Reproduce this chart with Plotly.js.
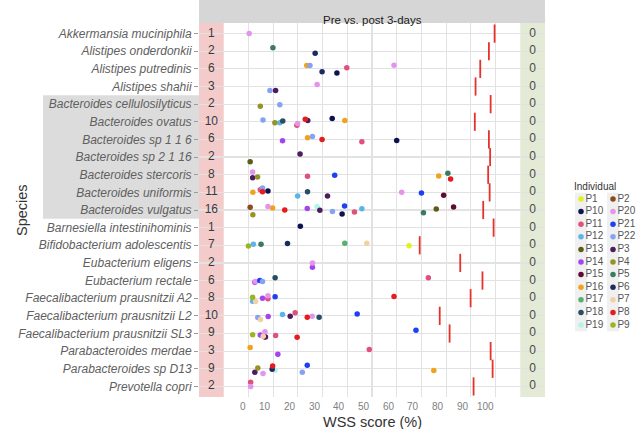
<!DOCTYPE html>
<html>
<head>
<meta charset="utf-8">
<script src="https://cdn.plot.ly/plotly-3.0.1.min.js"></script>
<style>html,body{margin:0;padding:0;background:#fff;}#chart{width:641px;height:429px;}</style>
</head>
<body>
<div id="chart"></div>
<script>
// ---------------- DATA ----------------
const species = [
  "Akkermansia muciniphila","Alistipes onderdonkii","Alistipes putredinis","Alistipes shahii",
  "Bacteroides cellulosilyticus","Bacteroides ovatus","Bacteroides sp 1 1 6","Bacteroides sp 2 1 16",
  "Bacteroides stercoris","Bacteroides uniformis","Bacteroides vulgatus","Barnesiella intestinihominis",
  "Bifidobacterium adolescentis","Eubacterium eligens","Eubacterium rectale","Faecalibacterium prausnitzii A2",
  "Faecalibacterium prausnitzii L2","Faecalibacterium prausnitzii SL3","Parabacteroides merdae",
  "Parabacteroides sp D13","Prevotella copri"
];
const preCount  = [1,2,6,3,2,10,6,2,8,11,16,1,7,2,6,8,10,9,3,9,2];
const postCount = [0,0,0,0,0,0,0,0,0,0,0,0,0,0,0,0,0,0,0,0,0];
const threshold = [99.6,97.3,93.8,91.9,98,91.6,97.3,97.8,97,97.6,95,99.2,69.3,85.7,94.7,89.9,77.4,81.4,98,98.8,91.1];
const highlighted = ["Bacteroides cellulosilyticus","Bacteroides vulgatus"];

const individuals = ["P1","P10","P11","P12","P13","P14","P15","P16","P17","P18","P19",
                     "P2","P20","P21","P22","P3","P4","P5","P6","P7","P8","P9"];
const indColors = {
  P1:"#e3f21c",P10:"#0b1452",P11:"#e0507a",P12:"#5ab4ea",P13:"#5c5c16",P14:"#a244f2",
  P15:"#5c0d33",P16:"#f0a21e",P17:"#55b071",P18:"#274e62",P19:"#b2f5ea",
  P2:"#8a4a22",P20:"#e493ee",P21:"#1f3ff2",P22:"#86a2f2",P3:"#4c1c5e",P4:"#949424",
  P5:"#3b7a61",P6:"#1b2b5e",P7:"#f2d2a4",P8:"#e41c1c",P9:"#9cb424"
};

// Each dot: species row, individual, WSS score (%), vertical jitter
const dotRow = [0, 1,1, 2,2,2,2,2,2, 3,3,3, 4,4,
  5,5,5,5,5,5,5,5,5,5, 6,6,6,6,6,6, 7,7, 8,8,8,8,8,8,8,8,
  9,9,9,9,9,9,9,9,9,9,9,
  10,10,10,10,10,10,10,10,10,10,10,10,10,10,10,10,
  11, 12,12,12,12,12,12,12, 13,13, 14,14,14,14,14,14, 15,15,15,15,15,15,15,15,
  16,16,16,16,16,16,16,16,16,16, 17,17,17,17,17,17,17,17,17, 18,18,18,
  19,19,19,19,19,19,19,19,19, 20,20];
const dotInd = ["P20", "P5","P6", "P16","P22","P6","P10","P11","P20", "P22","P3","P20", "P4","P22",
  "P22","P4","P12","P18","P11","P20","P8","P3","P10","P16",
  "P14","P16","P22","P8","P11","P10",
  "P13","P3",
  "P20","P3","P4","P11","P21","P16","P5","P8",
  "P16","P11","P22","P8","P10","P12","P18","P3","P20","P21","P15",
  "P2","P4","P20","P16","P8","P14","P19","P3","P22","P10","P21","P11","P12","P5","P13","P15",
  "P10",
  "P9","P12","P5","P6","P17","P7","P1",
  "P20","P14",
  "P20","P14","P21","P22","P18","P11",
  "P9","P12","P7","P14","P20","P11","P21","P8",
  "P22","P7","P14","P12","P3","P11","P8","P20","P18","P21",
  "P9","P14","P20","P7","P15","P3","P11","P8","P21",
  "P16","P14","P11",
  "P3","P4","P20","P6","P8","P19","P22","P21","P16",
  "P11","P20"];
const dotWss = [0.3, 9.9,27.0, 23.6,24.9,29.8,35.8,39.8,58.9, 8.7,11.0,27.8, 4.8,12.7,
  5.9,10.7,12.7,13.9,19.6,19.9,23.0,24.0,33.9,39.0,
  13.8,23.9,25.9,29.8,45.9,60.0,
  0.7,20.9,
  1.7,1.7,3.7,23.9,34.9,77.0,80.7,81.8,
  1.8,4.8,5.7,5.7,7.9,19.9,23.9,32.0,62.0,70.0,79.0,
  0.7,1.8,7.9,9.8,14.7,23.8,27.8,28.9,34.0,37.9,38.9,42.9,45.9,70.8,76.0,83.0,
  21.0,
  0.0,2.0,5.1,15.8,39.0,47.9,65.0,
  25.9,25.9,
  2.8,2.6,4.6,5.7,10.8,72.8,
  1.7,1.7,2.9,5.7,7.9,7.9,10.8,58.9,
  3.8,4.9,8.0,13.8,16.9,18.9,23.8,25.8,28.6,44.0,
  1.7,4.8,6.7,6.0,6.5,6.9,11.0,19.7,67.8,
  0.7,11.9,48.9,
  2.6,3.8,5.9,9.6,9.8,10.8,21.8,23.8,75.0,
  0.9,0.9];
const dotJitter = [0, -0.2,0.12, -0.19,-0.19,0.17,0.24,-0.06,-0.2, 0.23,0.23,-0.11, 0.12,0.03,
  -0.1,0.05,0.05,-0.04,0.2,0.1,-0.14,-0.08,-0.18,-0.08,
  0.08,-0.1,-0.17,0,0.13,0.06,
  0.26,-0.17,
  -0.16,0.17,0.13,0.09,0.03,0.07,-0.08,0.24,
  0,-0.15,-0.25,-0.04,-0.08,0.21,-0.04,0.21,0,0.04,0.17,
  -0.15,0.27,-0.2,-0.11,0,-0.09,-0.2,0.02,0.08,0.23,-0.22,0.12,-0.07,0.15,-0.05,-0.17,
  -0.08,
  0.04,-0.06,-0.06,-0.1,-0.11,-0.11,0.02,
  0,0.25,
  0.05,0.1,0,0.06,-0.16,-0.16,
  -0.06,0.17,0.19,0,-0.14,0.03,-0.08,-0.1,
  0.1,0.2,0.04,-0.07,0.02,-0.18,0.08,0.02,0.08,-0.11,
  0.07,0.09,-0.1,0.16,0.18,0.2,0.12,0.22,-0.18,
  -0.2,0.17,-0.09,
  0.2,-0.05,0.27,0.02,-0.16,0.08,0.2,-0.2,0.1,
  -0.23,0];

const xTicks = [0,10,20,30,40,50,60,70,80,90,100];
const xTickLabels = ["0","10","20","30","40","50","60","70","80","90","100"];

// ---------------- BUILD ----------------
const FONT = "Liberation Sans, Arial, Helvetica, sans-serif";
const rows = species.map((s,i)=>i);
const traces = [];

// dots, one trace per individual
individuals.forEach(ind=>{
  const xs=[], ys=[];
  dotInd.forEach((d,k)=>{ if(d===ind){ xs.push(dotWss[k]); ys.push(dotRow[k]+dotJitter[k]); } });
  traces.push({type:"scatter",mode:"markers",x:xs,y:ys,name:ind,showlegend:false,
    marker:{size:5.5,color:indColors[ind]},hoverinfo:"x+name",xaxis:"x",yaxis:"y"});
});
// threshold ticks
traces.push({type:"scatter",mode:"markers",x:threshold,y:rows,showlegend:false,
  marker:{symbol:"line-ns-open",size:13,color:"#e8312b",line:{color:"#e8312b",width:1.8}},xaxis:"x",yaxis:"y"});
// counts
traces.push({type:"scatter",mode:"text",x:rows.map(()=>-15),y:rows,text:preCount.map(String),
  textfont:{family:FONT,size:12,color:"#3a3a3a"},showlegend:false,hoverinfo:"skip",xaxis:"x",yaxis:"y"});
traces.push({type:"scatter",mode:"text",x:rows.map(()=>115),y:rows,text:postCount.map(String),
  textfont:{family:FONT,size:12,color:"#4a4a4a"},showlegend:false,hoverinfo:"skip",xaxis:"x",yaxis:"y"});

// custom legend on its own axes: two columns
const perCol = Math.ceil(individuals.length/2);
const legTop = 176, legStep = 12.6, colX = [11, 43];
individuals.forEach((ind,k)=>{
  const c = Math.floor(k/perCol), r = k%perCol;
  traces.push({type:"scatter",mode:"markers+text",x:[colX[c]],y:[legTop+r*legStep],
    text:[ind],textposition:"middle right",textfont:{family:FONT,size:10,color:"#555"},
    marker:{size:5.5,color:indColors[ind]},showlegend:false,hoverinfo:"skip",
    xaxis:"x2",yaxis:"y2",cliponaxis:false});
});

const W = 641, H = 429, ML = 199, MR = 0, MT = 23, MB = 32;
const plotW = W-ML-MR, plotH = H-MT-MB;
const mainW = 346;
const dom1 = mainW/plotW;

const shapes = [
  // highlight behind Bacteroides labels
  {type:"rect",xref:"paper",yref:"y",x0:(43-ML)/plotW,x1:0,
   y0:species.indexOf(highlighted[0])-0.5,y1:species.indexOf(highlighted[1])+0.5,
   fillcolor:"#dcdcdc",line:{width:0},layer:"below"},
  // pre strip (pink) and post strip (green)
  {type:"rect",xref:"x",yref:"paper",x0:-20,x1:-10,y0:0,y1:1,fillcolor:"#f3cbcb",line:{width:0},layer:"below"},
  {type:"rect",xref:"x",yref:"paper",x0:110,x1:120,y0:0,y1:1,fillcolor:"#e3ebd6",line:{width:0},layer:"below"},
  // facet strip
  {type:"rect",xref:"paper",yref:"paper",x0:0,x1:dom1,y0:1,y1:1+MT/plotH,fillcolor:"#d6d6d6",line:{width:0}},
  // legend key backgrounds
  {type:"rect",xref:"x2",yref:"y2",x0:colX[0]-6,x1:colX[0]+6,y0:legTop-legStep/2,y1:legTop+(perCol-0.5)*legStep,fillcolor:"#f0f0f0",line:{width:0},layer:"below"},
  {type:"rect",xref:"x2",yref:"y2",x0:colX[1]-6,x1:colX[1]+6,y0:legTop-legStep/2,y1:legTop+(perCol-0.5)*legStep,fillcolor:"#f0f0f0",line:{width:0},layer:"below"}
];

const annotations = [
  {text:"Pre vs. post 3-days",xref:"x",yref:"paper",x:50,y:1+MT/plotH/2,showarrow:false,
   font:{family:FONT,size:11.5,color:"#1a1a1a"}},
  {text:"WSS score (%)",xref:"paper",yref:"paper",x:dom1/2,y:0,yshift:-15,yanchor:"top",showarrow:false,
   font:{family:FONT,size:14.5,color:"#333"}},
  {text:"Species",xref:"paper",yref:"paper",x:(12-ML)/plotW,y:0.5,textangle:-90,showarrow:false,
   font:{family:FONT,size:14.5,color:"#333"}},
  {text:"Individual",xref:"x2",yref:"y2",x:2,y:legTop-12.5,xanchor:"left",showarrow:false,
   font:{family:FONT,size:10,color:"#333"}}
];
xTicks.forEach((t,i)=>annotations.push({text:xTickLabels[i],xref:"x",yref:"paper",x:t,y:0,yshift:-2,
  xanchor:"right",yanchor:"top",showarrow:false,font:{family:FONT,size:10,color:"#808080"}}));

const layout = {
  width:W,height:H,margin:{l:ML,r:MR,t:MT,b:MB,pad:0},
  paper_bgcolor:"#fff",plot_bgcolor:"rgba(0,0,0,0)",
  showlegend:false,
  xaxis:{domain:[0,dom1],range:[-20,120],tickvals:xTicks,showticklabels:false,ticks:"",
    showgrid:true,gridcolor:"#e2e2e2",gridwidth:1.2,zeroline:false,showline:false,fixedrange:true},
  yaxis:{range:[species.length-0.4,-0.6],tickvals:rows,ticktext:species,
    tickfont:{family:FONT,size:12,color:"#606060",style:"italic"},
    ticks:"outside",ticklen:4,tickcolor:"#9a9a9a",tickwidth:1,
    showgrid:true,gridcolor:"#e2e2e2",gridwidth:1.2,zeroline:false,showline:false,fixedrange:true},
  xaxis2:{domain:[(570-ML)/plotW,1],range:[0,71],visible:false,fixedrange:true,anchor:"y2"},
  yaxis2:{domain:[0,1],range:[plotH,0],visible:false,fixedrange:true,anchor:"x2"},
  shapes:shapes,annotations:annotations,
  font:{family:FONT}
};
Plotly.newPlot("chart",traces,layout,{displayModeBar:false,staticPlot:true});
</script>
</body>
</html>
